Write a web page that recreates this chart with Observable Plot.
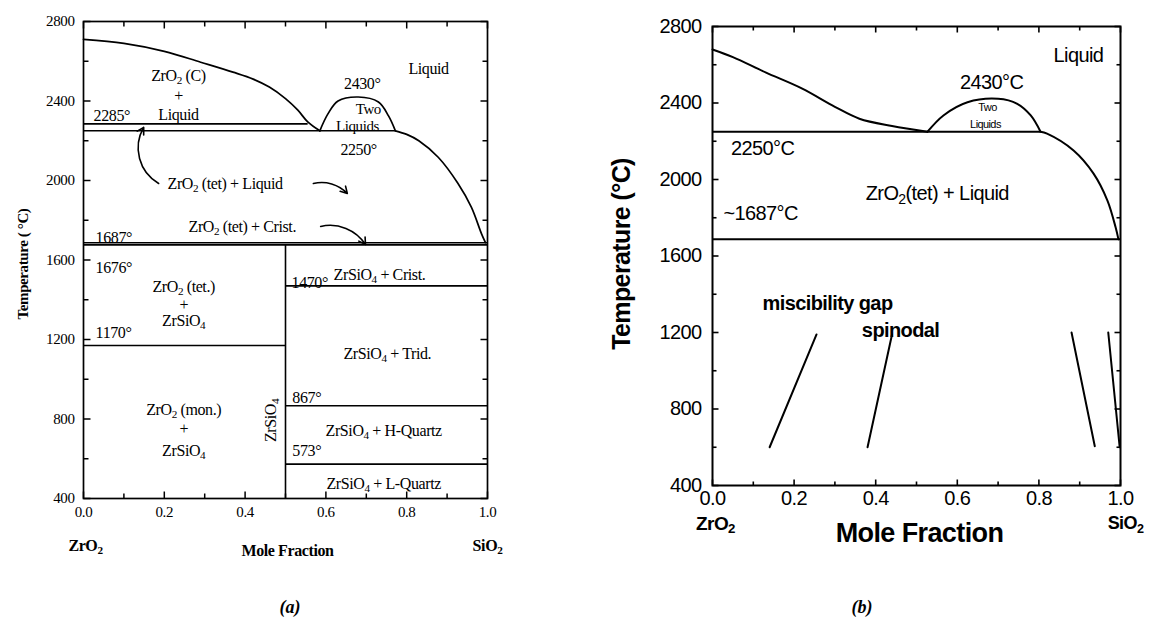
<!DOCTYPE html>
<html>
<head>
<meta charset="utf-8">
<script src="https://cdn.jsdelivr.net/npm/d3@7"></script>
<script src="https://cdn.jsdelivr.net/npm/@observablehq/plot@0.6"></script>
<style>
  body { margin: 0; background: #fff; }
  #wrap { position: relative; width: 1154px; height: 629px; overflow: hidden; background: #fff; }
  .panel { position: absolute; top: 0; }
  .cap { position: absolute; top: 607px; transform: translate(-50%, -50%);
         font: italic bold 18px "Liberation Serif", "Times New Roman", serif; }
  .bar { position: absolute; left: 0; height: 4px; }
</style>
</head>
<body>
<div id="wrap"></div>
<script>
// ZrO2–SiO2 phase diagram: (a) assessed diagram, (b) calculated diagram with spinodal.

// shared axis domains and tick values
const xDomain = [0, 1];
const tDomain = [400, 2800];
const xMajor = [0, 0.2, 0.4, 0.6, 0.8, 1.0];
const xMinor = [0.1, 0.3, 0.5, 0.7, 0.9];
const tMajor = [400, 800, 1200, 1600, 2000, 2400, 2800];
const tMinor = [600, 1000, 1400, 1800, 2200, 2600];

// ---- panel (a) ----
const aLiquidusZr = [[0, 2710], [0.1, 2690], [0.2, 2650], [0.29, 2595], [0.37, 2545], [0.42, 2510],
                     [0.46, 2470], [0.5, 2412], [0.53, 2355], [0.555, 2295], [0.585, 2250]];
const aTwoLiquids = [[0.585, 2250], [0.605, 2335], [0.63, 2400], [0.68, 2420], [0.73, 2395],
                     [0.755, 2325], [0.772, 2250]];
const aLiquidusSi = [[0.772, 2250], [0.8, 2232], [0.83, 2200], [0.878, 2117], [0.927, 1985],
                     [0.96, 1866], [0.985, 1733], [0.995, 1687]];
const aIsotherms = [
  {T: 2285, x1: 0, x2: 0.556},
  {T: 2250, x1: 0, x2: 0.772},
  {T: 1687, x1: 0, x2: 1},
  {T: 1676, x1: 0, x2: 1},
  {T: 1170, x1: 0, x2: 0.5},
  {T: 1470, x1: 0.5, x2: 1},
  {T: 867, x1: 0.5, x2: 1},
  {T: 573, x1: 0.5, x2: 1}
];
const aZircon = [{x: 0.5, T1: 400, T2: 1676}];
const aCenterLabels = [
  {text: "ZrO₂ (C)", x: 0.235, T: 2525},
  {text: "+", x: 0.235, T: 2428},
  {text: "Liquid", x: 0.235, T: 2332},
  {text: "Liquid", x: 0.854, T: 2564},
  {text: "2430°", x: 0.69, T: 2488},
  {text: "2250°", x: 0.681, T: 2156},
  {text: "ZrO₂ (tet.)", x: 0.248, T: 1464},
  {text: "+", x: 0.248, T: 1374},
  {text: "ZrSiO₄", x: 0.248, T: 1296},
  {text: "ZrO₂ (mon.)", x: 0.248, T: 845},
  {text: "+", x: 0.248, T: 750},
  {text: "ZrSiO₄", x: 0.248, T: 642},
  {text: "ZrSiO₄ + Trid.", x: 0.752, T: 1130},
  {text: "ZrSiO₄ + H-Quartz", x: 0.743, T: 742},
  {text: "ZrSiO₄ + L-Quartz", x: 0.743, T: 476}
];
const aSmallLabels = [
  {text: "Two", x: 0.705, T: 2357},
  {text: "Liquids", x: 0.678, T: 2275}
];
const aStartLabels = [
  {text: "2285°", x: 0.025, T: 2327},
  {text: "ZrO₂ (tet) + Liquid", x: 0.208, T: 1985},
  {text: "ZrO₂ (tet) + Crist.", x: 0.26, T: 1769},
  {text: "1687°", x: 0.03, T: 1713},
  {text: "1676°", x: 0.03, T: 1562},
  {text: "1170°", x: 0.03, T: 1235},
  {text: "1470°", x: 0.515, T: 1487},
  {text: "ZrSiO₄ + Crist.", x: 0.619, T: 1527},
  {text: "867°", x: 0.517, T: 908},
  {text: "573°", x: 0.517, T: 642}
];
const aCompound = [{text: "ZrSiO₄", x: 0.463, T: 793}];
const aArrowUp = [{x1: 0.186, T1: 1985, x2: 0.149, T2: 2267}];
const aArrowRight = [{x1: 0.569, T1: 1985, x2: 0.653, T2: 1935}];
const aArrowCrist = [{x1: 0.587, T1: 1769, x2: 0.698, T2: 1678}];

// ---- panel (b) ----
const bLiquidusZr = [[0, 2680], [0.05, 2640], [0.13, 2560], [0.22, 2475], [0.3, 2380], [0.36, 2318],
                     [0.44, 2280], [0.527, 2250]];
const bTwoLiquids = [[0.527, 2250], [0.566, 2335], [0.625, 2404], [0.7, 2422], [0.747, 2396],
                     [0.78, 2335], [0.804, 2250]];
const bLiquidusSi = [[0.804, 2250], [0.82, 2240], [0.885, 2152], [0.934, 2031], [0.968, 1890],
                     [0.988, 1750], [0.995, 1687]];
const bIsotherms = [
  {T: 2250, x1: 0, x2: 0.804},
  {T: 1687, x1: 0, x2: 1}
];
const bSpinodal = [
  {g: 1, x: 0.14, T: 600}, {g: 1, x: 0.255, T: 1190},
  {g: 2, x: 0.38, T: 600}, {g: 2, x: 0.44, T: 1190},
  {g: 3, x: 0.88, T: 1200}, {g: 3, x: 0.937, T: 605},
  {g: 4, x: 0.97, T: 1200}, {g: 4, x: 0.998, T: 600}
];
const bLabels = [
  {text: "Liquid", x: 0.897, T: 2648},
  {text: "2430°C", x: 0.684, T: 2507},
  {text: "2250°C", x: 0.123, T: 2162},
  {text: "ZrO₂(tet) + Liquid", x: 0.551, T: 1927},
  {text: "~1687°C", x: 0.118, T: 1822}
];
const bSmallLabels = [
  {text: "Two", x: 0.674, T: 2376},
  {text: "Liquids", x: 0.669, T: 2288}
];
const bBoldLabels = [
  {text: "miscibility gap", x: 0.282, T: 1352},
  {text: "spinodal", x: 0.461, T: 1210}
];

// tick labels on the left and bottom
function tickLabels({padX, padY}) {
  return [
    Plot.axisX({anchor: "bottom", ticks: xMajor, tickSize: 0, tickPadding: padX, tickFormat: d => d.toFixed(1), label: null}),
    Plot.axisY({anchor: "left", ticks: tMajor, tickSize: 0, tickPadding: padY, tickFormat: d => String(d), label: null})
  ];
}

// short inward ticks on all four sides, drawn as links in scale units;
// w, h is the frame size in px, used to turn a tick length in px into scale units
function inwardTicks({w, h, major, minor, sw}) {
  const [x0, x1] = xDomain, [t0, t1] = tDomain;
  const kx = (x1 - x0) / w, kt = (t1 - t0) / h;
  const segs = [];
  for (const [ticks, len] of [[xMajor, major], [xMinor, minor]]) {
    for (const v of ticks) {
      segs.push({xa: v, xb: v, ta: t0, tb: t0 + len * kt});
      segs.push({xa: v, xb: v, ta: t1 - len * kt, tb: t1});
    }
  }
  for (const [ticks, len] of [[tMajor, major], [tMinor, minor]]) {
    for (const v of ticks) {
      segs.push({xa: x0, xb: x0 + len * kx, ta: v, tb: v});
      segs.push({xa: x1 - len * kx, xb: x1, ta: v, tb: v});
    }
  }
  return [Plot.link(segs, {x1: "xa", y1: "ta", x2: "xb", y2: "tb", stroke: "black", strokeWidth: sw})];
}

// turn ₂ / ₄ into lowered, smaller digits
function subscripts(svg) {
  const NS = "http://www.w3.org/2000/svg";
  svg.querySelectorAll("text").forEach(t => {
    const leaves = t.querySelector("tspan") ? [...t.querySelectorAll("tspan")] : [t];
    leaves.forEach(n => {
      const s = n.textContent;
      if (!/[₂₄]/.test(s)) return;
      n.textContent = "";
      let lowered = false;
      for (const p of s.split(/([₂₄])/)) {
        if (!p) continue;
        const ts = document.createElementNS(NS, "tspan");
        if (p === "₂" || p === "₄") {
          ts.textContent = p === "₂" ? "2" : "4";
          ts.setAttribute("font-size", "70%");
          ts.setAttribute("dy", "0.28em");
          lowered = true;
        } else {
          ts.textContent = p;
          if (lowered) { ts.setAttribute("dy", "-0.196em"); lowered = false; }
        }
        n.appendChild(ts);
      }
    });
  });
}

const serif = '"Liberation Serif", "Times New Roman", serif';
const sans = '"Liberation Sans", Arial, sans-serif';
const mid = {textAnchor: "middle", lineAnchor: "middle"};

const panelA = Plot.plot({
  width: 520, height: 570,
  marginLeft: 83, marginRight: 33, marginTop: 21, marginBottom: 72,
  x: {domain: xDomain},
  y: {domain: tDomain},
  style: {fontFamily: serif, fontSize: "15px", color: "black", background: "transparent", letterSpacing: "-0.4px"},
  marks: [
    ...tickLabels({padX: 8, padY: 9}),
    ...inwardTicks({w: 404, h: 477, major: 7, minor: 5, sw: 1.5}),
    Plot.ruleY(aIsotherms, {y: "T", x1: "x1", x2: "x2", stroke: "black", strokeWidth: 1.6}),
    Plot.ruleX(aZircon, {x: "x", y1: "T1", y2: "T2", stroke: "black", strokeWidth: 1.6}),
    Plot.line(aLiquidusZr, {x: d => d[0], y: d => d[1], curve: "catmull-rom", strokeWidth: 1.7}),
    Plot.line(aTwoLiquids, {x: d => d[0], y: d => d[1], curve: "catmull-rom", strokeWidth: 1.7}),
    Plot.line(aLiquidusSi, {x: d => d[0], y: d => d[1], curve: "catmull-rom", strokeWidth: 1.7}),
    Plot.text(aCenterLabels, {x: "x", y: "T", text: "text", fontSize: 16}),
    Plot.text(aSmallLabels, {x: "x", y: "T", text: "text", fontSize: 15}),
    Plot.text(aStartLabels, {x: "x", y: "T", text: "text", fontSize: 16, textAnchor: "start"}),
    Plot.text(aCompound, {x: "x", y: "T", text: "text", fontSize: 16, rotate: -90}),
    Plot.arrow(aArrowUp, {x1: "x1", y1: "T1", x2: "x2", y2: "T2", bend: 45, strokeWidth: 1.6, headLength: 7}),
    Plot.arrow(aArrowRight, {x1: "x1", y1: "T1", x2: "x2", y2: "T2", bend: 30, strokeWidth: 1.6, headLength: 7}),
    Plot.arrow(aArrowCrist, {x1: "x1", y1: "T1", x2: "x2", y2: "T2", bend: 35, strokeWidth: 1.6, headLength: 7}),
    Plot.text(["ZrO₂"], {frameAnchor: "bottom-left", text: d => d, ...mid, dx: 2, dy: 47, fontWeight: "bold", fontSize: 16}),
    Plot.text(["SiO₂"], {frameAnchor: "bottom-right", text: d => d, ...mid, dx: 0, dy: 47, fontWeight: "bold", fontSize: 16}),
    Plot.text(["Mole Fraction"], {frameAnchor: "bottom", text: d => d, ...mid, dx: 2, dy: 52, fontWeight: "bold", fontSize: 16, letterSpacing: "-0.8px"}),
    Plot.text(["Temperature ( °C)"], {frameAnchor: "left", text: d => d, ...mid, dx: -60, dy: 4, rotate: -90, fontWeight: "bold", fontSize: 15, letterSpacing: "-0.9px"}),
    Plot.frame({stroke: "black", strokeWidth: 1.7})
  ]
});

const panelB = Plot.plot({
  width: 564, height: 570,
  marginLeft: 122, marginRight: 34, marginTop: 26, marginBottom: 85,
  x: {domain: xDomain},
  y: {domain: tDomain},
  style: {fontFamily: sans, fontSize: "20px", color: "black", background: "transparent", letterSpacing: "-0.6px"},
  marks: [
    ...tickLabels({padX: 5, padY: 11}),
    ...inwardTicks({w: 408, h: 459, major: 6, minor: 4, sw: 1.6}),
    Plot.ruleY(bIsotherms, {y: "T", x1: "x1", x2: "x2", stroke: "black", strokeWidth: 2}),
    Plot.line(bLiquidusZr, {x: d => d[0], y: d => d[1], curve: "catmull-rom", strokeWidth: 2}),
    Plot.line(bTwoLiquids, {x: d => d[0], y: d => d[1], curve: "catmull-rom", strokeWidth: 2}),
    Plot.line(bLiquidusSi, {x: d => d[0], y: d => d[1], curve: "catmull-rom", strokeWidth: 2}),
    Plot.line(bSpinodal, {x: "x", y: "T", z: "g", strokeWidth: 2}),
    Plot.text(bLabels, {x: "x", y: "T", text: "text", fontSize: 20}),
    Plot.text(bSmallLabels, {x: "x", y: "T", text: "text", fontSize: 11, letterSpacing: "-0.5px"}),
    Plot.text(bBoldLabels, {x: "x", y: "T", text: "text", fontSize: 20, fontWeight: "bold"}),
    Plot.text(["ZrO₂"], {frameAnchor: "bottom-left", text: d => d, ...mid, dx: 3, dy: 38, fontWeight: "bold", fontSize: 19}),
    Plot.text(["SiO₂"], {frameAnchor: "bottom-right", text: d => d, ...mid, dx: 5, dy: 38, fontWeight: "bold", fontSize: 18}),
    Plot.text(["Mole Fraction"], {frameAnchor: "bottom", text: d => d, ...mid, dx: 3, dy: 48, fontWeight: "bold", fontSize: 27}),
    Plot.text(["Temperature (°C)"], {frameAnchor: "left", text: d => d, ...mid, dx: -91, dy: -2, rotate: -90, fontWeight: "bold", fontSize: 25}),
    Plot.frame({stroke: "black", strokeWidth: 2})
  ]
});

const wrap = document.getElementById("wrap");
for (const [svg, left] of [[panelA, 0], [panelB, 590]]) {
  subscripts(svg);
  svg.classList.add("panel");
  svg.style.left = left + "px";
  wrap.appendChild(svg);
}
for (const [label, cx] of [["(a)", 290], ["(b)", 862]]) {
  const d = document.createElement("div");
  d.className = "cap";
  d.style.left = cx + "px";
  d.textContent = label;
  wrap.appendChild(d);
}
</script>
</body>
</html>
